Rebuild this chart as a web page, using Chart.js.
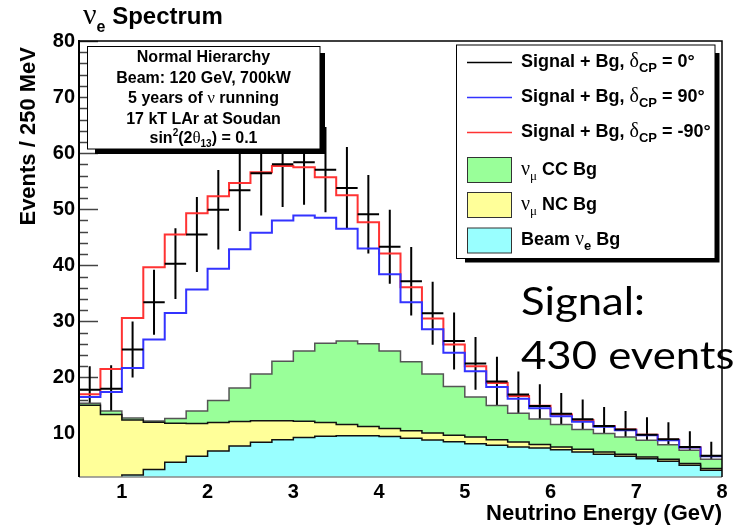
<!DOCTYPE html>
<html lang="en">
<head>
<meta charset="UTF-8" />
<title>νe Spectrum</title>
<script src="https://cdn.jsdelivr.net/npm/chart.js"></script>
<style>
  html, body { margin: 0; padding: 0; background: #fff; }
  #wrap { width: 734px; height: 530px; }
</style>
</head>
<body>
<div id="wrap"><canvas id="spectrum" width="734" height="530"></canvas></div>
<script>
  // 250 MeV bins from 0.5 to 8 GeV
  const binStart = 0.5;
  const binWidth = 0.25;
  const nBins = 30;

  // background components (events per bin)
  const beamNue = [0.8, 1.6, 2.6, 3.6, 4.9, 5.95, 6.9, 7.8, 8.45, 8.9, 9.3, 9.5, 9.6, 9.6, 9.45,
                   9.15, 8.85, 8.55, 8.2, 7.9, 7.6, 7.4, 7.1, 6.7, 6.3, 5.95, 5.5, 5.05, 4.35, 3.45];
  const ncBg = [14.25, 11.8, 9.8, 8.4, 6.95, 5.85, 5.05, 4.35, 3.85, 3.4, 2.9, 2.45, 2.0, 1.65, 1.45,
                1.35, 1.25, 1.15, 1.2, 1.0, 0.9, 0.65, 0.5, 0.5, 0.4, 0.35, 0.3, 0.35, 0.3, 0.3];
  const ccBg = [0.35, 0.6, 0.35, 0.25, 0.85, 2.2, 3.95, 5.95, 8.3, 10.6, 12.5, 14.15, 14.9, 14.75, 13.8,
                12.3, 10.5, 8.7, 7.1, 6.1, 5.1, 4.55, 4.0, 3.5, 3.3, 3.1, 3.0, 2.6, 2.35, 1.65];

  // signal + background totals
  const sigDcp0 = [17.8, 18.0, 25.0, 33.4, 40.3, 45.5, 49.9, 53.4, 56.4, 58.0, 58.4, 57.05, 53.8, 49.1, 43.3,
                   37.15, 31.45, 26.5, 22.5, 19.3, 16.95, 14.9, 13.55, 12.55, 11.35, 10.7, 9.8, 9.0, 7.6, 6.05];
  const errDcp0 = [4.2, 4.2, 5.0, 5.8, 6.3, 6.7, 7.1, 7.3, 7.5, 7.6, 7.6, 7.6, 7.3, 7.0, 6.6,
                   6.1, 5.6, 5.1, 4.7, 4.4, 4.1, 3.9, 3.7, 3.5, 3.4, 3.3, 3.1, 3.0, 2.8, 2.5];
  const sigDcp90 = [16.5, 17.4, 21.7, 26.75, 31.5, 35.7, 39.4, 42.85, 45.8, 48.0, 48.9, 48.5, 46.5, 43.0, 38.4,
                    33.4, 28.6, 24.4, 21.1, 18.3, 16.2, 14.5, 13.1, 12.1, 11.2, 10.6, 9.7, 8.8, 7.5, 5.95];
  const sigDcpM90 = [17.0, 21.5, 30.6, 39.65, 45.5, 49.3, 52.3, 54.7, 56.6, 57.7, 57.5, 55.7, 52.5, 47.7, 42.1,
                     36.1, 30.5, 25.9, 22.0, 19.0, 16.7, 14.95, 13.4, 12.4, 11.35, 10.7, 9.8, 8.9, 7.55, 6.0];

  const xTicks = [1, 2, 3, 4, 5, 6, 7, 8];
  const yTicks = [10, 20, 30, 40, 50, 60, 70, 80];
  const yMinor = 2;

  const edges = Array.from({ length: nBins + 1 }, (_, i) => binStart + i * binWidth);

  // histogram outline: one point per left edge, last value repeated at the right edge
  function stepData(values) {
    const pts = values.map((v, i) => ({ x: edges[i], y: v }));
    pts.push({ x: edges[nBins], y: values[nBins - 1] });
    return pts;
  }

  const ncTop = beamNue.map((v, i) => v + ncBg[i]);
  const ccTop = ncTop.map((v, i) => v + ccBg[i]);

  const errVert = [];
  const errHoriz = [];
  sigDcp0.forEach((v, i) => {
    const c = edges[i] + binWidth / 2;
    errVert.push({ x: c, y: v - errDcp0[i] }, { x: c, y: v + errDcp0[i] }, { x: c, y: null });
    errHoriz.push({ x: edges[i], y: v }, { x: edges[i + 1], y: v }, { x: edges[i + 1], y: null });
  });

  const SANS = '"Liberation Sans", Arial, sans-serif';
  const SERIF = '"Liberation Serif", "DejaVu Serif", serif';

  // draw a run of text pieces (different fonts / offsets) starting at x
  function runs(ctx, parts, x, y, align) {
    let w = 0;
    parts.forEach(p => { ctx.font = p.f; w += ctx.measureText(p.t).width; });
    let cx = align === 'center' ? x - w / 2 : x;
    ctx.textAlign = 'left';
    ctx.textBaseline = 'alphabetic';
    parts.forEach(p => {
      ctx.font = p.f;
      ctx.fillText(p.t, cx, y + (p.dy || 0));
      cx += ctx.measureText(p.t).width;
    });
  }

  const decorations = {
    id: 'decorations',
    beforeDatasetsDraw(chart) {
      const { ctx, chartArea: a, scales: { y } } = chart;
      ctx.save();
      ctx.strokeStyle = '#444';
      ctx.lineWidth = 1.5;
      for (let v = yTicks[0] - 6; v <= yTicks[yTicks.length - 1]; v += yMinor) {
        const py = Math.round(y.getPixelForValue(v)) + 0.5;
        const len = yTicks.includes(v) ? 19 : 9;
        ctx.beginPath();
        ctx.moveTo(a.left, py);
        ctx.lineTo(a.left + len, py);
        ctx.stroke();
      }
      ctx.restore();
    },
    afterDatasetsDraw(chart) {
      const { ctx, chartArea: a } = chart;
      ctx.save();
      ctx.strokeStyle = '#888';
      ctx.lineWidth = 1.5;
      ctx.beginPath();
      ctx.moveTo(a.left, a.bottom);
      ctx.lineTo(a.right, a.bottom);
      ctx.stroke();
      ctx.strokeStyle = '#000';
      ctx.beginPath();
      ctx.moveTo(a.left, a.top);
      ctx.lineTo(a.right, a.top);
      ctx.lineTo(a.right, a.bottom);
      ctx.stroke();
      ctx.lineWidth = 2;
      ctx.beginPath();
      ctx.moveTo(a.left, a.top - 1);
      ctx.lineTo(a.left, a.bottom);
      ctx.stroke();
      ctx.restore();
    },
    afterDraw(chart) {
      const ctx = chart.ctx;
      ctx.save();
      ctx.fillStyle = '#000';

      // title
      runs(ctx, [
        { t: 'ν', f: '30px ' + SERIF },
        { t: 'e', f: 'bold 16px ' + SANS, dy: 8 },
        { t: ' Spectrum', f: 'bold 24px ' + SANS }
      ], 83, 24);

      // axis titles
      ctx.font = 'bold 22px ' + SANS;
      ctx.textAlign = 'right';
      ctx.textBaseline = 'alphabetic';
      ctx.fillText('Neutrino Energy (GeV)', 722, 520);
      ctx.save();
      ctx.translate(35, 47);
      ctx.rotate(-Math.PI / 2);
      ctx.fillText('Events / 250 MeV', 0, 0);
      ctx.restore();

      // info box
      ctx.fillStyle = '#000';
      ctx.fillRect(95, 53, 230, 101);
      ctx.fillStyle = '#fff';
      ctx.fillRect(87.5, 46.5, 232.5, 102.5);
      ctx.strokeStyle = '#000';
      ctx.lineWidth = 1;
      ctx.strokeRect(87.5, 46.5, 232.5, 102.5);
      ctx.fillStyle = '#000';
      const B16 = 'bold 16px ' + SANS;
      const cx = 203.5;
      runs(ctx, [{ t: 'Normal Hierarchy', f: B16 }], cx, 62, 'center');
      runs(ctx, [{ t: 'Beam: 120 GeV, 700kW', f: B16 }], cx, 82.5, 'center');
      runs(ctx, [{ t: '5 years of ', f: B16 }, { t: 'ν', f: '17px ' + SERIF }, { t: ' running', f: B16 }], cx, 102.5, 'center');
      runs(ctx, [{ t: '17 kT LAr at Soudan', f: B16 }], cx, 124, 'center');
      runs(ctx, [
        { t: 'sin', f: B16 }, { t: '2', f: 'bold 10px ' + SANS, dy: -7 },
        { t: '(2', f: B16 }, { t: 'θ', f: '17px ' + SERIF },
        { t: '13', f: 'bold 10px ' + SANS, dy: 4 }, { t: ') = 0.1', f: B16 }
      ], cx, 143, 'center');

      // legend
      ctx.fillStyle = '#000';
      ctx.fillRect(465, 53, 254.5, 209.5);
      ctx.fillStyle = '#fff';
      ctx.fillRect(456.5, 45, 258.5, 213.5);
      ctx.strokeStyle = '#000';
      ctx.lineWidth = 1;
      ctx.strokeRect(456.5, 45, 258.5, 213.5);

      const B18 = 'bold 18px ' + SANS;
      const lines = [
        { color: '#000', angle: '0°', y: 66.5 },
        { color: '#3333ff', angle: '90°', y: 101.5 },
        { color: '#ff3333', angle: '-90°', y: 136.5 }
      ];
      lines.forEach(l => {
        ctx.strokeStyle = l.color;
        ctx.lineWidth = 1.5;
        ctx.beginPath();
        ctx.moveTo(467, l.y - 4);
        ctx.lineTo(512, l.y - 4);
        ctx.stroke();
        ctx.fillStyle = '#000';
        runs(ctx, [
          { t: 'Signal + Bg, ', f: B18 }, { t: 'δ', f: '20px ' + SERIF },
          { t: 'CP', f: 'bold 13px ' + SANS, dy: 5 }, { t: ' = ' + l.angle, f: B18 }
        ], 521, l.y);
      });
      const boxes = [
        { fill: '#99ff99', y: 157.5, parts: [{ t: 'ν', f: '20px ' + SERIF }, { t: 'μ', f: '13px ' + SERIF, dy: 5 }, { t: ' CC Bg', f: B18 }], base: 175 },
        { fill: '#ffff99', y: 192.5, parts: [{ t: 'ν', f: '20px ' + SERIF }, { t: 'μ', f: '13px ' + SERIF, dy: 5 }, { t: ' NC Bg', f: B18 }], base: 210 },
        { fill: '#99ffff', y: 228, parts: [{ t: 'Beam ', f: B18 }, { t: 'ν', f: '20px ' + SERIF }, { t: 'e', f: 'bold 13px ' + SANS, dy: 5 }, { t: ' Bg', f: B18 }], base: 244.5 }
      ];
      boxes.forEach(b => {
        ctx.fillStyle = b.fill;
        ctx.fillRect(467.5, b.y, 44, 25);
        ctx.strokeStyle = '#333';
        ctx.lineWidth = 1;
        ctx.strokeRect(467.5, b.y, 44, 25);
        ctx.fillStyle = '#000';
        runs(ctx, b.parts, 521, b.base);
      });

      // signal count note
      ctx.font = '39px Lato, "Open Sans", sans-serif';
      ctx.textAlign = 'left';
      ctx.fillStyle = '#000';
      ctx.save();
      ctx.translate(521, 315);
      ctx.scale(1.12, 1);
      ctx.fillText('Signal:', 0, 0);
      ctx.fillText('430 events', 0, 54);
      ctx.restore();

      ctx.restore();
    }
  };

  const stepLine = { stepped: 'before', pointRadius: 0, tension: 0 };

  new Chart(document.getElementById('spectrum'), {
    type: 'line',
    data: {
      datasets: [
        { ...stepLine, label: 'Beam νe Bg', data: stepData(beamNue), fill: 'start',
          backgroundColor: '#99ffff', borderColor: '#111', borderWidth: 1.5, order: 6 },
        { ...stepLine, label: 'νμ NC Bg', data: stepData(ncTop), fill: '-1',
          backgroundColor: '#ffff99', borderColor: '#111', borderWidth: 1.5, order: 7 },
        { ...stepLine, label: 'νμ CC Bg', data: stepData(ccTop), fill: '-1',
          backgroundColor: '#99ff99', borderColor: '#555', borderWidth: 1.5, order: 8 },
        { ...stepLine, label: 'Signal + Bg, δCP = 90°', data: stepData(sigDcp90), fill: false,
          borderColor: '#3333ff', borderWidth: 2, order: 2 },
        { ...stepLine, label: 'Signal + Bg, δCP = -90°', data: stepData(sigDcpM90), fill: false,
          borderColor: '#ff3333', borderWidth: 2, order: 3 },
        { label: 'δCP = 0° errors', data: errVert, fill: false, pointRadius: 0,
          borderColor: '#000', borderWidth: 2, order: 9 },
        { label: 'Signal + Bg, δCP = 0°', data: errHoriz, fill: false, pointRadius: 0,
          borderColor: '#000', borderWidth: 2, order: 1 }
      ]
    },
    options: {
      responsive: false,
      animation: false,
      events: [],
      devicePixelRatio: 1,
      layout: { padding: { top: 41, right: 12, left: 0, bottom: 0 } },
      plugins: { legend: { display: false }, title: { display: false }, tooltip: { enabled: false } },
      scales: {
        x: {
          type: 'linear', min: 0.5, max: 8,
          afterBuildTicks: s => { s.ticks = xTicks.map(v => ({ value: v })); },
          afterFit: s => { s.height = 53; },
          grid: { display: false, drawTicks: false },
          border: { display: false },
          ticks: { color: '#000', font: { family: SANS, size: 20, weight: 'bold' }, padding: 3, maxRotation: 0 }
        },
        y: {
          type: 'linear', min: 2.25, max: 80,
          afterBuildTicks: s => { s.ticks = yTicks.map(v => ({ value: v })); },
          afterFit: s => { s.width = 79; },
          grid: { display: false, drawTicks: false },
          border: { display: false },
          ticks: { color: '#000', font: { family: SANS, size: 20, weight: 'bold' }, padding: 4 }
        }
      }
    },
    plugins: [decorations]
  });
</script>
</body>
</html>
